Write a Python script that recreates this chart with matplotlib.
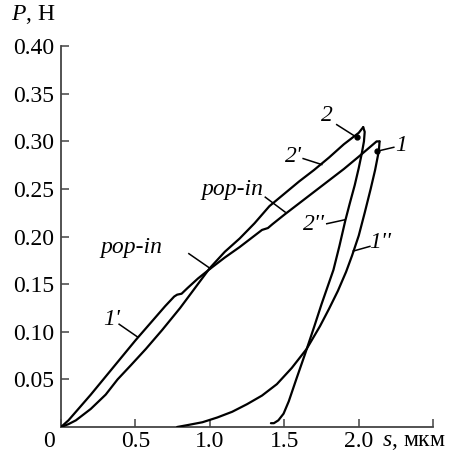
import matplotlib
matplotlib.use("Agg")
from matplotlib import pyplot as plt

plt.rcParams['font.family'] = ['Liberation Serif', 'DejaVu Serif']
plt.rcParams['mathtext.fontset'] = 'custom'
plt.rcParams['mathtext.it'] = 'Liberation Serif:italic'
plt.rcParams['mathtext.rm'] = 'Liberation Serif'

# curve 1, loading (1') and unloading (1'')
load1_s = [0.00, 0.05, 0.10, 0.20, 0.30, 0.40, 0.50, 0.60, 0.70, 0.76, 0.78, 0.81, 0.85, 0.92,
           1.00, 1.10, 1.20, 1.30, 1.35, 1.39, 1.42, 1.50, 1.60, 1.70, 1.80, 1.90, 2.00, 2.06, 2.12, 2.14]
load1_p = [0.000, 0.007, 0.016, 0.034, 0.053, 0.072, 0.091, 0.109, 0.127, 0.137, 0.139, 0.140, 0.146, 0.156,
           0.166, 0.178, 0.189, 0.201, 0.207, 0.209, 0.213, 0.223, 0.235, 0.247, 0.259, 0.271, 0.284, 0.292, 0.300, 0.300]
unload1_s = [2.14, 2.135, 2.11, 2.08, 2.04, 2.00, 1.955, 1.915, 1.86, 1.80, 1.74, 1.65, 1.55, 1.45,
             1.35, 1.25, 1.15, 1.05, 0.95, 0.85, 0.78]
unload1_p = [0.300, 0.290, 0.270, 0.250, 0.225, 0.201, 0.180, 0.163, 0.143, 0.124, 0.106, 0.082, 0.062, 0.045,
             0.033, 0.024, 0.016, 0.010, 0.005, 0.002, 0.000]

# curve 2, loading (2') and unloading (2'')
load2_s = [0.00, 0.05, 0.10, 0.20, 0.30, 0.38, 0.47, 0.57, 0.68, 0.80, 0.90, 1.00, 1.10, 1.20,
           1.30, 1.40, 1.50, 1.60, 1.70, 1.80, 1.90, 2.00, 2.02, 2.03]
load2_p = [0.000, 0.003, 0.007, 0.019, 0.034, 0.050, 0.065, 0.082, 0.102, 0.125, 0.146, 0.167, 0.184, 0.198,
           0.214, 0.232, 0.245, 0.258, 0.270, 0.283, 0.297, 0.309, 0.313, 0.315]
unload2_s = [2.03, 2.04, 2.035, 2.02, 2.00, 1.973, 1.94, 1.91, 1.87, 1.83, 1.79, 1.75, 1.70, 1.64,
             1.58, 1.53, 1.495, 1.46, 1.43, 1.41]
unload2_p = [0.315, 0.310, 0.300, 0.287, 0.272, 0.254, 0.235, 0.217, 0.190, 0.165, 0.147, 0.129, 0.105, 0.077,
             0.050, 0.027, 0.014, 0.007, 0.004, 0.004]

x_ticks = [0, 0.5, 1.0, 1.5, 2.0, 2.5]
x_labels = ['', '0.5', '1.0', '1.5', '2.0', '']
y_ticks = [0.05, 0.10, 0.15, 0.20, 0.25, 0.30, 0.35, 0.40]
y_labels = ['0.05', '0.10', '0.15', '0.20', '0.25', '0.30', '0.35', '0.40']

fs = 17

fig = plt.figure(figsize=(4.5, 4.53), dpi=100)
ax = fig.add_axes([0.1356, 0.0574, 0.827, 0.8406])

lw = 1.6
for s, p in [(load1_s, load1_p), (unload1_s, unload1_p), (load2_s, load2_p), (unload2_s, unload2_p)]:
    ax.plot(s, p, color='black', lw=lw, solid_joinstyle='round', solid_capstyle='round', zorder=3)

ax.set_xlim(0, 2.5)
ax.set_ylim(0, 0.40)
ax.set_xticks(x_ticks)
ax.set_xticklabels(x_labels)
ax.set_yticks(y_ticks)
ax.set_yticklabels(y_labels)
ax.tick_params(direction='in', length=6, width=1.1, color='#444444', labelsize=fs, pad=3)
ax.tick_params(axis='y', pad=5)
for side in ['top', 'right']:
    ax.spines[side].set_visible(False)
for side in ['left', 'bottom']:
    ax.spines[side].set_color('#444444')
    ax.spines[side].set_linewidth(1.3)

ax.annotate('0', xy=(0, 0), xytext=(-9, -3), textcoords='offset points',
            ha='center', va='top', fontsize=fs)
ax.annotate('$s$, мкм', xy=(2.5, 0), xytext=(-14, -3), textcoords='offset points',
            ha='center', va='top', fontsize=fs)
fig.text(11 / 450, 1 - 15 / 453, '$P$, Н', ha='left', va='center', fontsize=fs)

# px -> data helpers for label placement
def d(x, y):
    return ((x - 60) / 149.4, (427 - y) / 954)

labels = [
    ('2', (327, 115), (336.7, 124), (356.7, 136.7), True),
    ('1', (401, 145), (394, 146.7), (377, 150.7), True),
    ("2'", (293, 156), (303, 158), (321.7, 164), False),
    ("2''", (314, 224), (326.7, 223.3), (345, 219.3), False),
    ("1''", (380, 242), (370, 246), (353.3, 250.7), False),
    ("1'", (111, 319), (118.3, 324), (136.7, 336.7), False),
    ('pop-in', (131, 247), (188.3, 253.3), (210, 268.3), False),
    ('pop-in', (232, 189), (265, 196.7), (285, 211.7), False),
]
for txt, tpos, p0, p1, dot in labels:
    ax.text(*d(*tpos), txt, style='italic', fontsize=fs, ha='center', va='center')
    a, b = d(*p0), d(*p1)
    ax.plot([a[0], b[0]], [a[1], b[1]], color='black', lw=1.1)
    if dot:
        ax.plot(b[0], b[1], 'o', color='black', ms=3.5, zorder=4)

fig.savefig('out.png', dpi=100)
